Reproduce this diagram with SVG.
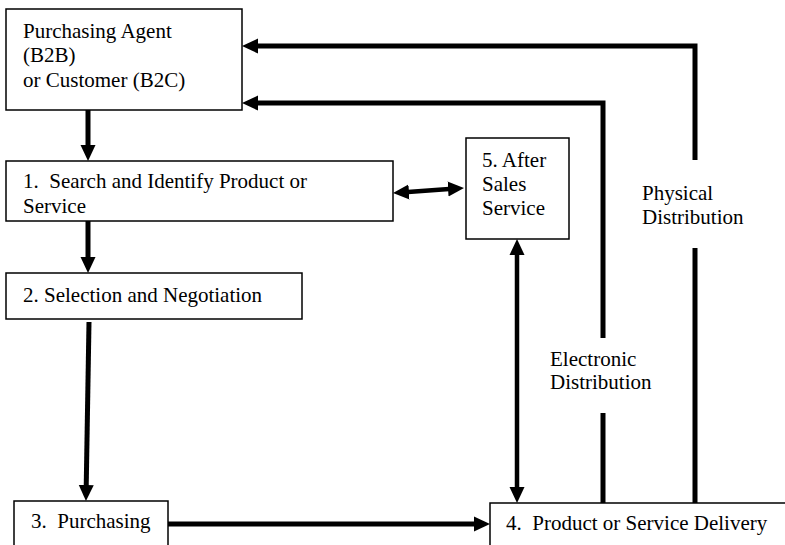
<svg xmlns="http://www.w3.org/2000/svg" width="785" height="545" viewBox="0 0 785 545">
  <style>
    .box { fill: #ffffff; stroke: #000000; stroke-width: 1.5; }
    .label { font-size: 21px; fill: #000000; }
    .flow { fill: none; stroke: #000000; stroke-width: 5; stroke-linejoin: miter; }
    .flow-thin { fill: none; stroke: #000000; stroke-width: 4.5; }
  </style>
  <defs>
    <marker id="head" markerUnits="userSpaceOnUse" markerWidth="16" markerHeight="16" viewBox="0 0 16 16" refX="8" refY="8" orient="auto-start-reverse">
      <path d="M0,0.5 L16,8 L0,15.5 z" fill="#000000"/>
    </marker>
  </defs>

  <!-- connectors -->
  <g id="connectors">
    <!-- customer to step 1 -->
    <line class="flow" x1="88" y1="110" x2="88" y2="153" marker-end="url(#head)"/>
    <!-- step 1 to step 2 -->
    <line class="flow" x1="88" y1="221" x2="88" y2="265" marker-end="url(#head)"/>
    <!-- step 2 to step 3 -->
    <line class="flow" x1="89" y1="322" x2="86.1" y2="493" marker-end="url(#head)"/>
    <!-- step 3 to step 4 -->
    <line class="flow" x1="168" y1="524" x2="482" y2="524" marker-end="url(#head)"/>
    <!-- step 1 <-> step 5 -->
    <line class="flow-thin" x1="401" y1="192.5" x2="456" y2="188.5" marker-start="url(#head)" marker-end="url(#head)"/>
    <!-- step 5 <-> step 4 -->
    <line class="flow-thin" x1="517" y1="247" x2="517" y2="495" marker-start="url(#head)" marker-end="url(#head)"/>
    <!-- physical distribution return path -->
    <polyline class="flow" points="695,160 695,46 250,46" marker-end="url(#head)"/>
    <line class="flow" x1="695" y1="248" x2="695" y2="503"/>
    <!-- electronic distribution return path -->
    <polyline class="flow" points="603,338 603,103 250,103" marker-end="url(#head)"/>
    <line class="flow" x1="603" y1="413" x2="603" y2="503"/>
  </g>

  <g font-family="Liberation Serif, serif">
    <!-- channel labels -->
    <g id="label-physical">
      <text class="label" x="642" y="200">Physical</text>
      <text class="label" x="642" y="224">Distribution</text>
    </g>
    <g id="label-electronic">
      <text class="label" x="550" y="366">Electronic</text>
      <text class="label" x="550" y="389">Distribution</text>
    </g>

    <!-- nodes -->
    <g id="customer">
      <rect class="box" x="6" y="9" width="236" height="101"/>
      <text class="label" x="23" y="38">Purchasing Agent</text>
      <text class="label" x="23" y="62">(B2B)</text>
      <text class="label" x="23" y="87">or Customer (B2C)</text>
    </g>
    <g id="step1">
      <rect class="box" x="6" y="161" width="387" height="60"/>
      <text class="label" x="23" y="188" xml:space="preserve">1.  Search and Identify Product or</text>
      <text class="label" x="23" y="213">Service</text>
    </g>
    <g id="step2">
      <rect class="box" x="6" y="273" width="296" height="46"/>
      <text class="label" x="23" y="302">2. Selection and Negotiation</text>
    </g>
    <g id="step3">
      <rect class="box" x="14" y="501" width="154" height="60"/>
      <text class="label" x="31" y="528" xml:space="preserve">3.  Purchasing</text>
    </g>
    <g id="step4">
      <rect class="box" x="490" y="503" width="320" height="60"/>
      <text class="label" x="506" y="530" xml:space="preserve">4.  Product or Service Delivery</text>
    </g>
    <g id="step5">
      <rect class="box" x="466" y="138" width="103" height="101"/>
      <text class="label" x="482" y="167">5. After</text>
      <text class="label" x="482" y="191">Sales</text>
      <text class="label" x="482" y="215">Service</text>
    </g>
  </g>
</svg>
